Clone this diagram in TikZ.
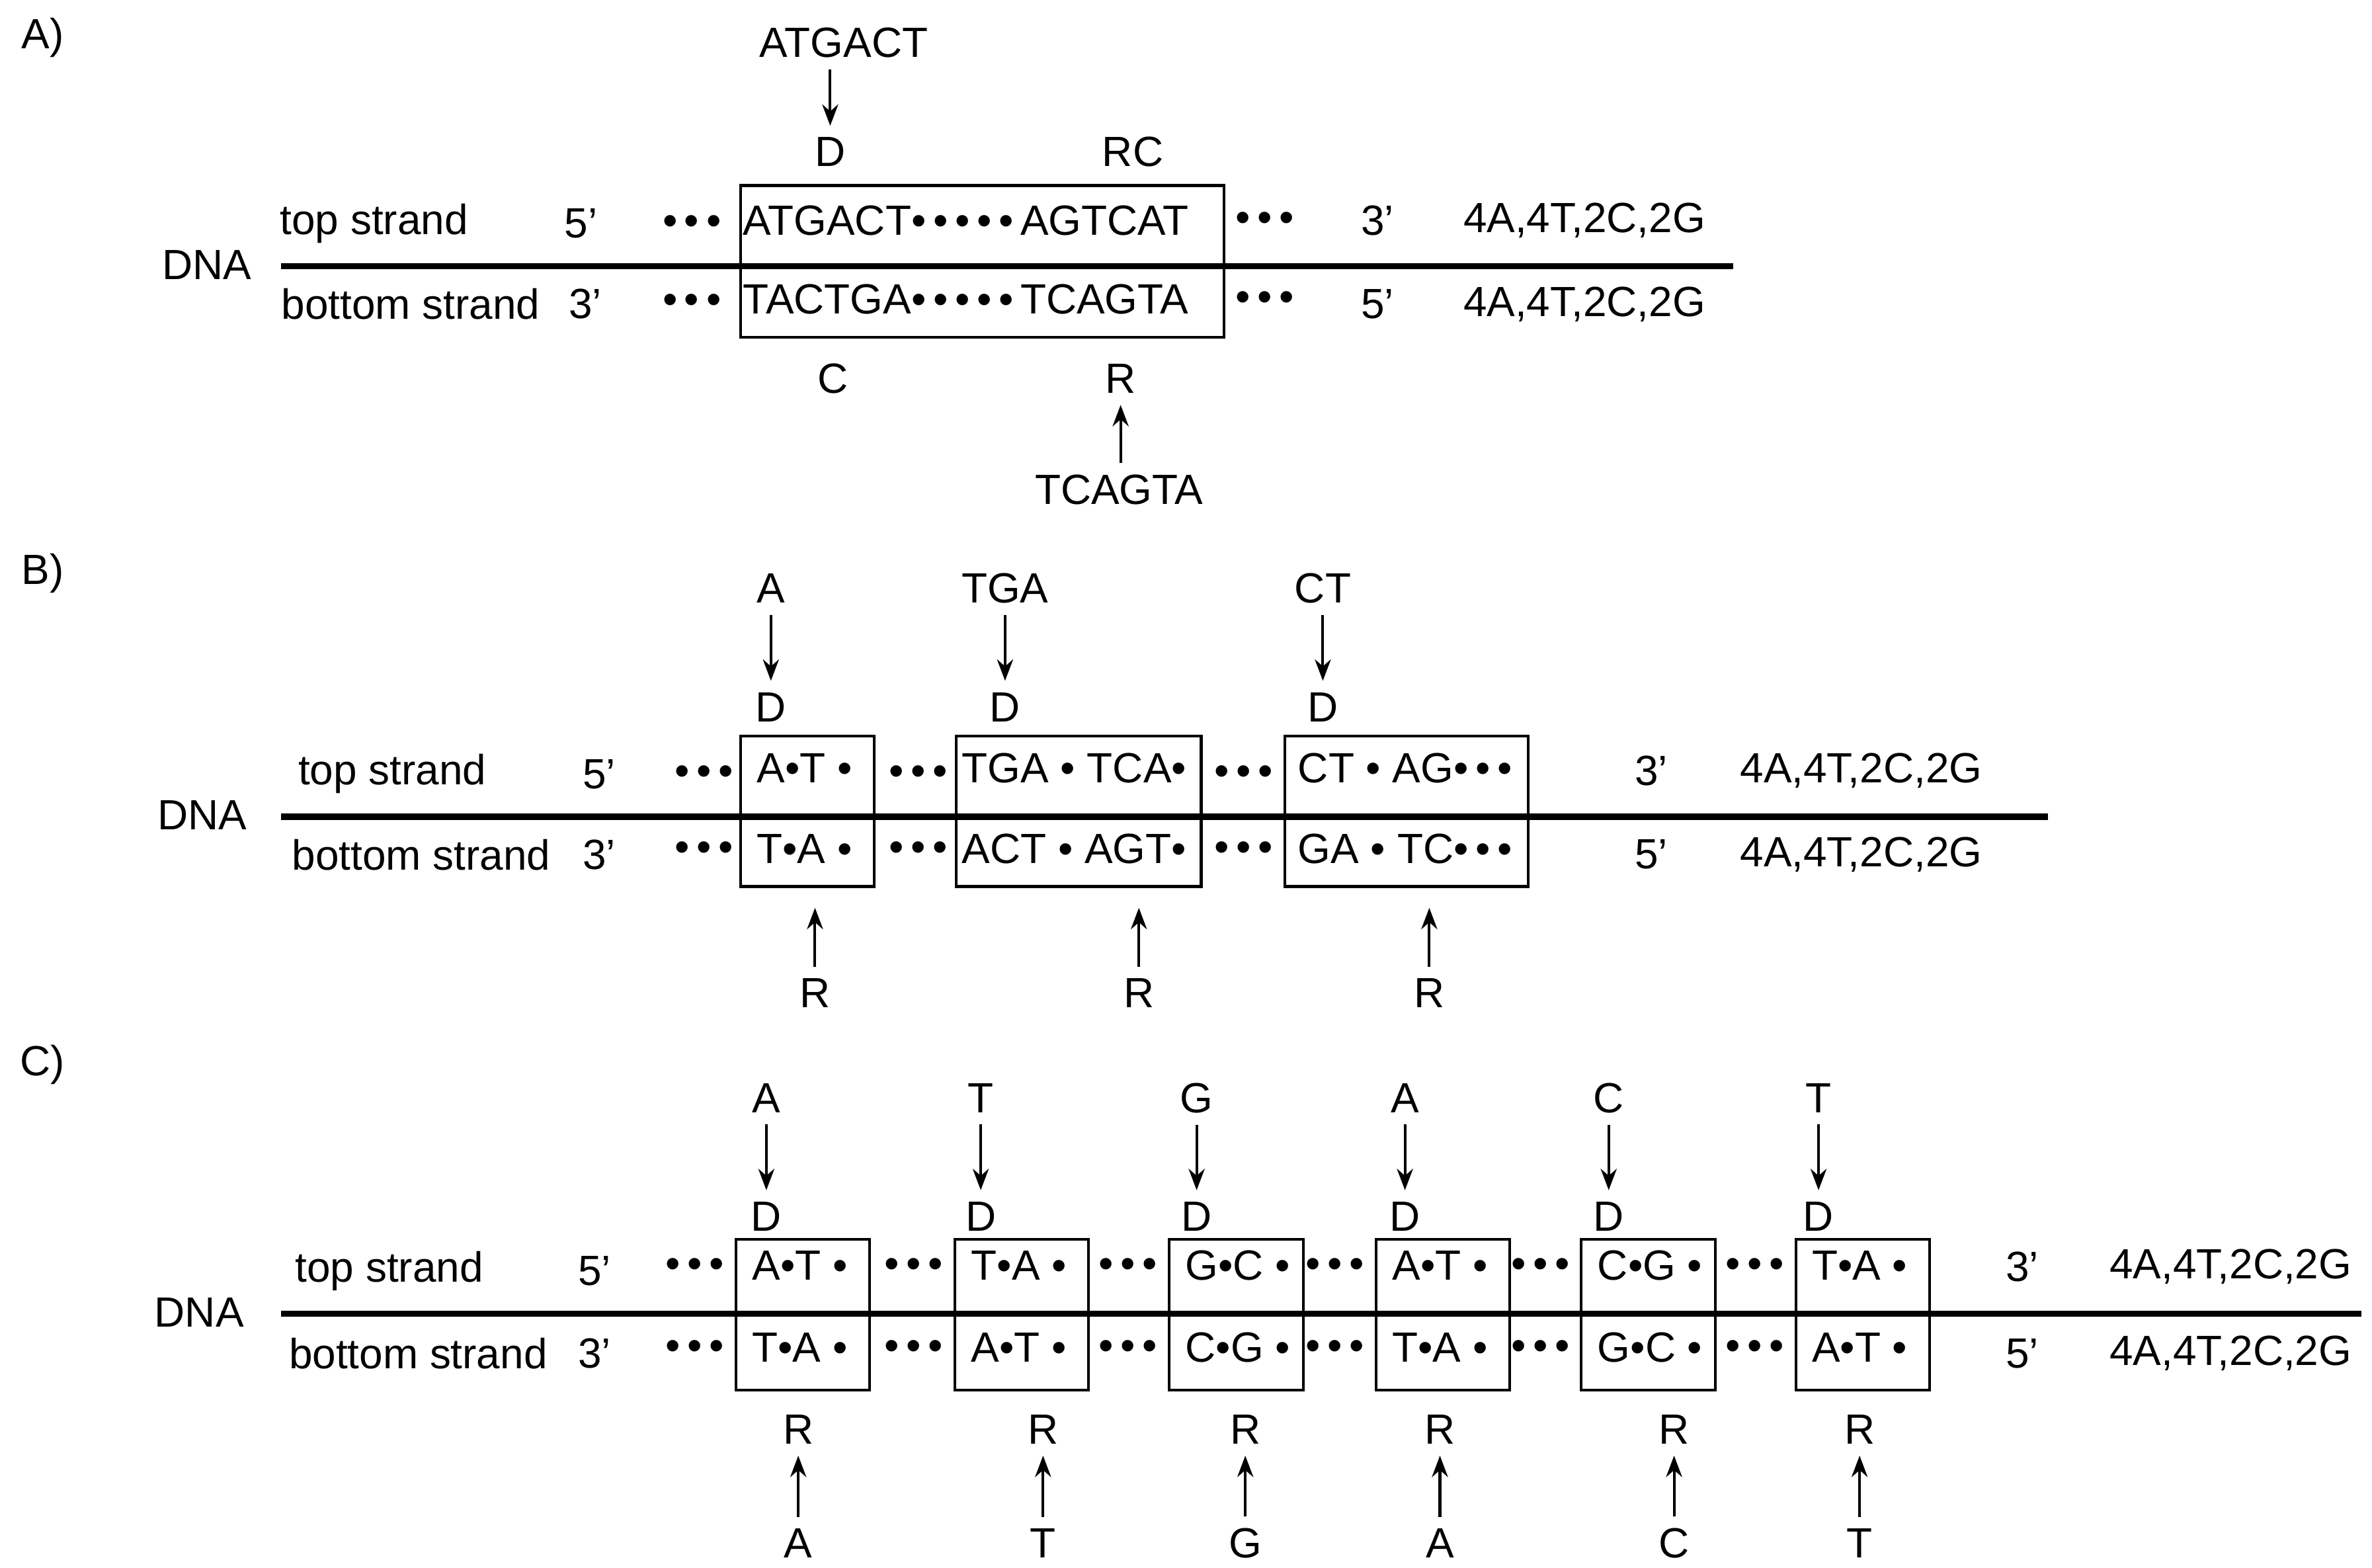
\documentclass[tikz,border=0pt]{standalone}
\usepackage{fontspec}
\setmainfont{Liberation Sans}
\usetikzlibrary{arrows.meta}
\begin{document}
\begin{tikzpicture}[x=0.01cm,y=-0.01cm,
  every node/.style={font=\fontsize{7.9}{9}\selectfont, inner sep=0pt},
  arr/.style={-{Stealth[length=4pt,width=3pt]}, line width=0.5pt, shorten >=2pt, shorten <=2pt},
  strand/.style={line width=1.2pt}]
\useasboundingbox (0,0) rectangle (1560,1031);
\newcommand{\dd}{\textbullet\,\textbullet\,\textbullet}
% ---------- A
\node (Alab) at (28,25) {A)};
\node (a1) at (555,28) {ATGACT};
\node (aD) at (546,100) {D};
\node (aRC) at (745,100) {RC};
\draw[arr] (a1.south -| aD) -- (aD.north);
\node (aT) at (246,147) {top strand};
\node (a5) at (382,147) {5’};
\node (ad1) at (455,148) {\dd};
\draw[line width=0.5pt] (487,122) rectangle (805,222);
\node[anchor=west] (aseq) at (488,145) {ATGACT\textbullet\,\textbullet\,\textbullet\,\textbullet\,\textbullet\,AGTCAT};
\node (ad2) at (832,146) {\dd};
\node (a3) at (906,145) {3’};
\node (ac1) at (1042,145) {4A,4T,2C,2G};
\node (aDNA) at (136,174) {DNA};
\coordinate (aL) at (185,175); \coordinate (aR) at (1140,175);
\draw[strand] (aL) -- (aR);
\node (aB) at (270,200) {bottom strand};
\node (a3b) at (385,200) {3’};
\node (ad3) at (455,200) {\dd};
\node[anchor=west] (aseqb) at (488,197) {TACTGA\textbullet\,\textbullet\,\textbullet\,\textbullet\,\textbullet\,TCAGTA};
\node (ad4) at (832,198) {\dd};
\node (a5b) at (906,200) {5’};
\node (ac2) at (1042,200) {4A,4T,2C,2G};
\node (aC) at (548,249) {C};
\node (aR2) at (737,249) {R};
\node (a2) at (736,322) {TCAGTA};
\draw[arr] (a2.north -| aR2) -- (aR2.south);
% ---------- B
\node (Blab) at (28,377) {B)};
\foreach \n/\x/\t in {1/507/A,2/661/TGA,3/870/CT}{
  \node (bt\n) at (\x,387) {\t};
  \node (bD\n) at (\x,465) {D};
  \draw[arr] (bt\n.south) -- (bD\n.north);
}
\node (bT) at (258,509) {top strand};
\node (b5) at (394,509) {5’};
\node (bB) at (277,562) {bottom strand};
\node (b3) at (394,562) {3’};
\node (bDNA) at (133,536) {DNA};
\coordinate (bL) at (185,537); \coordinate (bR) at (1347,537);
\draw[strand] (bL) -- (bR);
\draw[line width=0.5pt] (487,484) rectangle (575,583);
\draw[line width=0.5pt] (629,484) rectangle (790,583);
\draw[line width=0.5pt] (845,484) rectangle (1005,583);
\foreach \x in {463,604,818}{
  \node at (\x,510) {\dd};
  \node at (\x,560) {\dd};
}
\node[anchor=west] at (497,505) {A\textbullet T \textbullet};
\node[anchor=west] at (497,558) {T\textbullet A \textbullet};
\node[anchor=west] at (632,505) {TGA \textbullet\ TCA\textbullet};
\node[anchor=west] at (632,558) {ACT \textbullet\ AGT\textbullet};
\node[anchor=west] at (853,505) {CT \textbullet\ AG\textbullet\,\textbullet\,\textbullet};
\node[anchor=west] at (853,558) {GA \textbullet\ TC\textbullet\,\textbullet\,\textbullet};
\node (b3r) at (1086,507) {3’};
\node (bc1) at (1224,507) {4A,4T,2C,2G};
\node (b5r) at (1086,562) {5’};
\node (bc2) at (1224,562) {4A,4T,2C,2G};
\foreach \n/\x in {1/536,2/749,3/940}{
  \node (bR\n) at (\x,653) {R};
  \coordinate (bRt\n) at (\x,590);
  \draw[arr] (bR\n.north) -- (bRt\n);
}
% ---------- C
\node (Clab) at (28,700) {C)};
\node (cT) at (256,836) {top strand};
\node (c5) at (391,836) {5’};
\node (cB) at (275,890) {bottom strand};
\node (c3) at (391,890) {3’};
\node (cDNA) at (131,863) {DNA};
\coordinate (cL) at (185,864); \coordinate (cR) at (1553,864);
\draw[strand] (cL) -- (cR);
\foreach \n/\bx/\dx/\rx/\l/\ta/\tb/\ba/\bb in {
  1/484/504/525/A/A/T/T/A,
  2/628/645/686/T/T/A/A/T,
  3/769/787/819/G/G/C/C/G,
  4/905/924/947/A/A/T/T/A,
  5/1040/1058/1101/C/C/G/G/C,
  6/1181/1196/1223/T/T/A/A/T}{
  \draw[line width=0.5pt] (\bx,815) rectangle ({\bx+88},914);
  \node[anchor=west] at ({\bx+10},832) {\ta\textbullet\tb\ \textbullet};
  \node[anchor=west] at ({\bx+10},886) {\ba\textbullet\bb\ \textbullet};
  \node at ({\bx-27},834) {\dd};
  \node at ({\bx-27},888) {\dd};
  \node (ct\n) at (\dx,722) {\l};
  \node (cD\n) at (\dx,800) {D};
  \draw[arr] (ct\n.south) -- (cD\n.north);
  \node (cR\n) at (\rx,940) {R};
  \node (cb\n) at (\rx,1015) {\l};
  \draw[arr] (cb\n.north) -- (cR\n.south);
}
\node (c3r) at (1330,833) {3’};
\node (cc1) at (1467,833) {4A,4T,2C,2G};
\node (c5r) at (1330,890) {5’};
\node (cc2) at (1467,890) {4A,4T,2C,2G};
\end{tikzpicture}
\end{document}
